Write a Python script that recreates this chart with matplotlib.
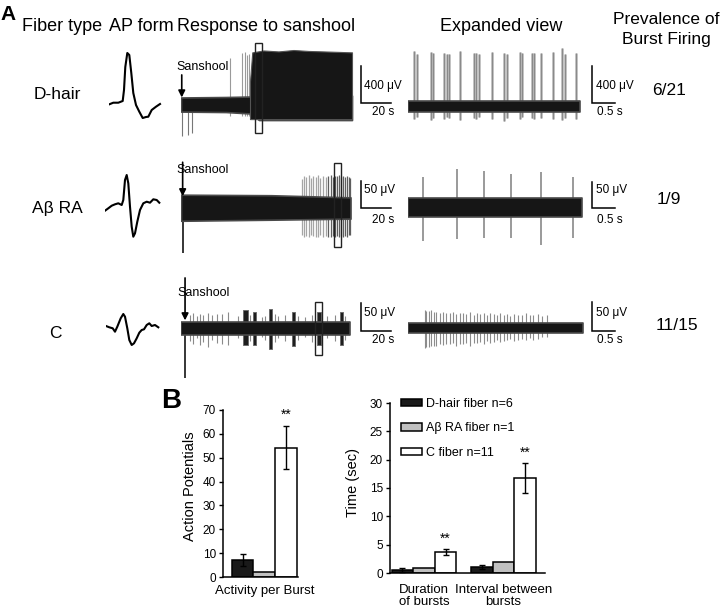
import matplotlib
matplotlib.use("Agg")
import matplotlib.pyplot as plt
from matplotlib.patches import Rectangle, Patch

plt.rcParams['font.family'] = ['Liberation Sans', 'DejaVu Sans']

W, H = 720, 608

# ---------------- panel A data ----------------
fiber_types = ['D-hair', 'Aβ RA', 'C']
prevalence = ['6/21', '1/9', '11/15']
scale_uv = [400, 50, 50]          # vertical scale bars (µV)
scale_slow_s = 20                 # horizontal scale bar, response trace (s)
scale_fast_s = 0.5                # horizontal scale bar, expanded view (s)

# AP waveforms (sample, amplitude, baseline = 0)
dhair_ap_t = [0, 4, 9, 13.4, 14.7, 16, 18, 20, 22, 24, 26.7, 30, 33.4, 36.7, 39, 42.4, 46.7, 50.7]
dhair_ap_v = [-1.3, 0.3, 0.3, 2, 13, 36, 50, 48, 30, 10, -2, -8.7, -15, -14, -13.7, -7, -3.7, -1]
abeta_ap_t = [0, 3.3, 6.7, 10, 13.3, 16.7, 18.3, 20, 21.7, 23.3, 25, 26.7, 28.3, 30, 32.3, 35,
              38.3, 41.7, 45, 48.3, 51.7, 54.3]
abeta_ap_v = [-2.7, -0.3, 2.3, 3.7, 4.7, 3, 8, 28, 33, 24.7, 1.3, -18.7, -28.7, -25.3, -13.7, -2,
              4.7, 6.3, 5.3, 8.7, 8, 5.3]
c_ap_t = [0, 3.3, 6.7, 9, 11.3, 14.7, 17.3, 19, 21.3, 23.3, 25.7, 28, 30.7, 33.3, 35.7, 38, 40.7,
          43.3, 45.7, 49, 52.3]
c_ap_v = [1, -0.3, -1.3, -4.7, 0.3, 8.7, 13, 10.3, -1.3, -13, -18, -16.3, -11.3, -5.7, -3, -2.3, 2,
          3.7, 1, 2, -0.3]

# D-hair response to sanshool (s, µV)
dhair_band_t = [0, 30, 46, 52, 114]
dhair_band_hi = [80, 85, 90, 100, 100]
dhair_band_lo = [-70, -75, -90, -160, -160]
dhair_burst_t = [46, 47.5, 55, 65, 75, 85, 95, 105, 114]
dhair_burst_top = [250, 560, 580, 570, 585, 575, 570, 565, 560]
dhair_spike_t = [32.7, 40.5, 42.7, 43.8, 45.5]
dhair_spike_up = [500, 550, 560, 530, 540]
dhair_artifact_t = [0.5, 4.5, 7.5]
dhair_artifact_lo = [-330, -320, -300]
dhair_window = [49.3, 54.0, -295, 656]

# D-hair expanded view (s, µV)
dhair_exp_band_t = [0, 3.79]
dhair_exp_band_hi = [60, 60]
dhair_exp_band_lo = [-60, -60]
dhair_exp_spike_t = [0.13, 0.205, 0.50, 0.557, 0.79, 0.85, 0.91, 1.14, 1.45, 1.50, 1.56, 1.84,
                     2.11, 2.17, 2.46, 2.52, 2.74, 2.77, 2.94, 3.20, 3.40, 3.45, 3.71]
dhair_exp_spike_up = [590, 560, 585, 570, 575, 560, 565, 590, 570, 575, 565, 585, 575, 560, 580,
                      570, 570, 575, 575, 585, 620, 560, 570]
dhair_exp_spike_lo = [-130, -110, -140, -120, -130, -110, -120, -140, -120, -130, -110, -130,
                      -150, -120, -130, -110, -120, -130, -120, -130, -140, -120, -130]

# Abeta RA response to sanshool (s, µV)
abeta_band_t = [0, 60, 113]
abeta_band_hi = [25, 24, 20]
abeta_band_lo = [-24, -22, -20]
abeta_spike_t = [80.7, 82, 83.4, 85.4, 86.7, 88, 90, 91.4, 92.7, 94.7, 96.7, 98, 100, 101.4, 102.7,
                 104, 105.4, 106.7, 108, 109.4, 110.7, 112, 112.7]
abeta_spike_up = [55, 60, 58, 62, 56, 60, 59, 62, 57, 61, 58, 60, 62, 59, 61, 60, 62, 58, 61, 59,
                  60, 58, 56]
abeta_spike_lo = [-50, -54, -52, -55, -50, -53, -54, -55, -51, -54, -52, -55, -54, -53, -55, -52,
                  -55, -53, -54, -52, -55, -51, -50]
abeta_artifact_t = [1.1]
abeta_artifact_lo = [-84]
abeta_window = [102.2, 106.5, -73, 85]

# Abeta RA expanded view
abeta_exp_band_t = [0, 3.83]
abeta_exp_band_hi = [18, 18]
abeta_exp_band_lo = [-18, -18]
abeta_exp_spike_t = [0.32, 1.09, 1.67, 2.26, 2.94, 3.63]
abeta_exp_spike_up = [60, 76, 71, 65, 69, 60]
abeta_exp_spike_lo = [-65, -62, -59, -59, -73, -59]

# C fiber response to sanshool
c_band_t = [0, 113]
c_band_hi = [12, 12]
c_band_lo = [-12, -12]
c_burst_start = [41.3, 48.0, 58.7, 74.0, 90.7, 106.0]
c_burst_end = [44.7, 50.0, 60.7, 76.0, 93.4, 108.0]
c_burst_up = [32, 29, 34, 29, 28, 29]
c_burst_lo = [-30, -30, -37, -32, -30, -30]
c_spike_t = [6, 8.2, 10.5, 12.7, 14.9, 18.2, 20.9, 23.8, 27.1, 31.5, 38.2, 46, 53.8, 56, 62.7,
             64.9, 69.3, 78.2, 82.7, 87.1, 97.1, 102.7, 109.3]
c_spike_up = [24, 27, 22, 26, 24, 27, 23, 25, 26, 28, 22, 24, 20, 22, 25, 21, 23, 22, 20, 24, 21,
              23, 22]
c_spike_lo = [-22, -28, -18, -30, -25, -33, -20, -26, -28, -30, -18, -22, -16, -20, -25, -18, -22,
              -20, -16, -24, -18, -22, -20]
c_artifact_t = [2.7]
c_artifact_lo = [-88]
c_window = [89.5, 94.2, -47, 47]

# C fiber expanded view
c_exp_band_t = [0, 3.85]
c_exp_band_hi = [9, 9]
c_exp_band_lo = [-9, -9]
c_exp_spike_t = [0.37, 0.40, 0.46, 0.51, 0.565, 0.62, 0.70, 0.77, 0.845, 0.92, 0.99, 1.065, 1.14,
                 1.21, 1.285, 1.37, 1.445, 1.52, 1.59, 1.665, 1.74, 1.81, 1.885, 1.96, 2.03, 2.105,
                 2.18, 2.25, 2.34, 2.42, 2.50, 2.59, 2.68, 2.75, 2.86, 2.96, 3.06]
c_exp_spike_up = [32, 31, 30, 32, 29, 28, 27, 28, 26, 27, 28, 25, 27, 26, 25, 28, 24, 26, 25, 27,
                  24, 26, 25, 23, 26, 24, 25, 22, 25, 23, 24, 26, 23, 24, 25, 22, 24]
c_exp_spike_lo = [-34, -33, -32, -31, -30, -30, -28, -29, -27, -28, -26, -30, -27, -28, -26, -31,
                  -25, -26, -24, -27, -22, -25, -23, -20, -24, -22, -21, -18, -22, -20, -19, -21,
                  -17, -20, -18, -15, -16]

# ---------------- panel B data ----------------
legend_labels = ['D-hair fiber n=6', 'Aβ RA fiber n=1', 'C fiber n=11']
ap_per_burst = [7.1, 2.2, 54.2]
ap_per_burst_sem = [2.5, 0, 9.1]
time_groups = ['Duration\nof bursts', 'Interval between\nbursts']
dhair_time = [0.45, 1.1]
dhair_time_sem = [0.35, 0.35]
abeta_time = [0.8, 2.0]
abeta_time_sem = [0, 0]
c_time = [3.7, 16.8]
c_time_sem = [0.6, 2.7]

bar_colors = ['#1a1a1a', '#c0c0c0', 'white']

fig = plt.figure(figsize=(W / 100, H / 100), dpi=100)


def ftext(x, y, s, **kw):
    # place text using pixel coordinates of the figure
    fig.text(x / W, 1 - y / H, s, **kw)


def px_axes(x0, y0, x1, y1):
    ax = fig.add_axes([x0 / W, 1 - y1 / H, (x1 - x0) / W, (y1 - y0) / H])
    ax.patch.set_visible(False)
    return ax


def trace_ax(x0, yc, px_per_s, uv_per_px, span_s):
    top, bot = yc - 80, yc + 55
    ax = px_axes(x0, top, x0 + span_s * px_per_s, bot)
    ax.set_xlim(0, span_s)
    ax.set_ylim(-(bot - yc) * uv_per_px, (yc - top) * uv_per_px)
    ax.axis('off')
    return ax


def band(ax, t, lo, hi):
    # noise band of the recording, with a soft rim
    ax.fill_between(t, lo, hi, color=BAND, edgecolor='#4a4a4a', lw=1.2, zorder=3)


def scale_bar(ax, t, base, dt, duv):
    ax.plot([t, t, t + dt], [base + duv, base, base], color='k', lw=1.1,
            solid_joinstyle='miter', clip_on=False)


def window_box(ax, win):
    ax.add_patch(Rectangle((win[0], win[2]), win[1] - win[0], win[3] - win[2],
                           fill=False, ec='#222222', lw=1.0, zorder=5))


def sanshool(ax, t, top, tip, tx, ty):
    ax.annotate('', xy=(t, tip), xytext=(t, top),
                arrowprops=dict(arrowstyle='-|>', color='k', lw=1.2, mutation_scale=10,
                                shrinkA=0, shrinkB=0), zorder=6)
    ftext(tx, ty, 'Sanshool', fontsize=9, ha='left', va='baseline')


BAND = '#161616'
SLOW = 1.5      # px per s
FAST = 45.4     # px per s

# ---------------- headers ----------------
ftext(0, 20, 'A', fontsize=15, fontweight='bold')
hdr = dict(fontsize=13, ha='center', va='baseline')
ftext(62, 31, 'Fiber type', **hdr)
ftext(141, 31, 'AP form', **hdr)
ftext(266, 31, 'Response to sanshool', **hdr)
ftext(501, 31, 'Expanded view', **hdr)
ftext(666, 24, 'Prevalence of', fontsize=12.5, ha='center', va='baseline')
ftext(666, 44, 'Burst Firing', fontsize=12.5, ha='center', va='baseline')

# row labels & prevalence
label_pos = [(57, 99), (57, 213), (55, 338)]
prev_pos = [(669, 95), (669, 204), (677, 330)]
for name, (x, y) in zip(fiber_types, label_pos):
    ftext(x, y, name, fontsize=12.5, ha='center', va='baseline')
for p, (x, y) in zip(prevalence, prev_pos):
    ftext(x, y, p, fontsize=12.5, ha='center', va='baseline')

# ---------------- AP forms ----------------
ap_data = [(dhair_ap_t, dhair_ap_v, 109.3, 103), (abeta_ap_t, abeta_ap_v, 105, 208),
           (c_ap_t, c_ap_v, 106, 327)]
for t, v, x0, base in ap_data:
    ax = px_axes(x0, base - 60, x0 + 60, base + 45)
    ax.set_xlim(0, 60)
    ax.set_ylim(-45, 60)
    ax.axis('off')
    ax.plot(t, v, color='k', lw=1.5)

# ---------------- D-hair traces ----------------
ax = trace_ax(181, 105, SLOW, 400 / 37.6, 145)
ax.vlines(dhair_artifact_t, dhair_artifact_lo, 0, color='#777777', lw=0.8)
ax.vlines(dhair_spike_t, -120, dhair_spike_up, color='#9a9a9a', lw=0.8)
band(ax, dhair_band_t, dhair_band_lo, dhair_band_hi)
ax.fill_between(dhair_burst_t, -150, dhair_burst_top, color=BAND, edgecolor='#555555',
                lw=0.8, zorder=4)
window_box(ax, dhair_window)
scale_bar(ax, 120, 18, scale_slow_s, scale_uv[0])
sanshool(ax, 0.5, 320, 80, 176.7, 70)

ax = trace_ax(408, 106.7, FAST, 400 / 37.6, 4.7)
ax.vlines(dhair_exp_spike_t, dhair_exp_spike_lo, dhair_exp_spike_up, color='#b0b0b0', lw=1.8)
ax.vlines(dhair_exp_spike_t, dhair_exp_spike_lo, dhair_exp_spike_up, color='#7a7a7a', lw=0.5)
band(ax, dhair_exp_band_t, dhair_exp_band_lo, dhair_exp_band_hi)
scale_bar(ax, 4.06, 36, scale_fast_s, scale_uv[0])

# ---------------- Abeta RA traces ----------------
ax = trace_ax(181, 208, SLOW, 50 / 26.6, 145)
cols = ['#a5a5a5' if t < 98 else '#5e5e5e' for t in abeta_spike_t]
ax.vlines(abeta_spike_t, abeta_spike_lo, abeta_spike_up, colors=cols, lw=0.9)
ax.vlines(abeta_artifact_t, abeta_artifact_lo, 0, color='k', lw=1.1)
band(ax, abeta_band_t, abeta_band_lo, abeta_band_hi)
window_box(ax, abeta_window)
scale_bar(ax, 120, 0, scale_slow_s, scale_uv[1])
sanshool(ax, 1.1, 86, 22, 176, 172.5)

ax = trace_ax(408, 207.5, FAST, 50 / 25.6, 4.7)
ax.vlines(abeta_exp_spike_t, abeta_exp_spike_lo, abeta_exp_spike_up, color='#9a9a9a', lw=1.4)
band(ax, abeta_exp_band_t, abeta_exp_band_lo, abeta_exp_band_hi)
scale_bar(ax, 4.06, 0, scale_fast_s, scale_uv[1])

# ---------------- C fiber traces ----------------
ax = trace_ax(181, 328.3, SLOW, 50 / 28.3, 145)
ax.vlines(c_spike_t, c_spike_lo, c_spike_up, color='#8a8a8a', lw=0.8)
for t0, t1, up, lo in zip(c_burst_start, c_burst_end, c_burst_up, c_burst_lo):
    ax.fill_between([t0, t1], lo, up, color='#1e1e1e', edgecolor='#666666', lw=0.6)
ax.vlines(c_artifact_t, c_artifact_lo, 0, color='k', lw=1.1)
band(ax, c_band_t, c_band_lo, c_band_hi)
window_box(ax, c_window)
scale_bar(ax, 120, -4.8, scale_slow_s, scale_uv[2])
sanshool(ax, 2.7, 89, 14, 177.7, 295.5)

ax = trace_ax(408, 328.3, FAST, 50 / 28.7, 4.7)
ax.vlines(c_exp_spike_t, c_exp_spike_lo, c_exp_spike_up, color='#8c8c8c', lw=0.8)
band(ax, c_exp_band_t, c_exp_band_lo, c_exp_band_hi)
scale_bar(ax, 4.06, -4.7, scale_fast_s, scale_uv[2])

# scale bar labels
sb = dict(fontsize=8.5, va='baseline')
for uv, y_uv, y_s in [(scale_uv[0], 89.5, 115), (scale_uv[1], 193, 223), (scale_uv[2], 316, 343)]:
    ftext(364, y_uv, f'{uv} μV', ha='left', **sb)
    ftext(596, y_uv, f'{uv} μV', ha='left', **sb)
    ftext(383, y_s, f'{scale_slow_s} s', ha='center', **sb)
    ftext(610, y_s, f'{scale_fast_s} s', ha='center', **sb)

# ---------------- panel B ----------------
ftext(161, 408, 'B', fontsize=20, fontweight='bold')


def style_bar_axes(ax):
    for s in ['top', 'right']:
        ax.spines[s].set_visible(False)
    for s in ['left', 'bottom']:
        ax.spines[s].set_linewidth(1.1)
    ax.tick_params(axis='y', direction='out', length=3, width=1, labelsize=8.5, pad=2)
    ax.tick_params(axis='x', length=0, labelsize=9.5)


axL = px_axes(223, 410, 298, 577)
xs = [0, 1, 2]
axL.bar(xs, ap_per_burst, width=1, color=bar_colors, edgecolor='k', linewidth=1.1)
for x, m, e in zip(xs, ap_per_burst, ap_per_burst_sem):
    if e > 0:
        axL.errorbar(x, m, yerr=e, color='k', capsize=2, elinewidth=1, capthick=1)
axL.annotate('**', xy=(2, ap_per_burst[2] + ap_per_burst_sem[2]), xytext=(0, 3),
             textcoords='offset points', ha='center', va='bottom', fontsize=10)
axL.set_xlim(-0.9, 2.55)
axL.set_ylim(0, 70)
axL.set_yticks(range(0, 71, 10))
axL.set_xticks([1])
axL.set_xticklabels(['Activity per Burst'])
style_bar_axes(axL)
axL.tick_params(axis='x', pad=6)
axL.set_ylabel('Action Potentials', fontsize=10.5)
axL.yaxis.set_label_coords(-0.347, 0.545)

axR = px_axes(390, 403, 545, 573)
centers = [0, 3.68]
series = [(dhair_time, dhair_time_sem), (abeta_time, abeta_time_sem), (c_time, c_time_sem)]
for k, (vals, sems) in enumerate(series):
    xk = [c + k - 1 for c in centers]
    axR.bar(xk, vals, width=1, color=bar_colors[k], edgecolor='k', linewidth=1.1)
    for x, m, e in zip(xk, vals, sems):
        if e > 0:
            axR.errorbar(x, m, yerr=e, color='k', capsize=2, elinewidth=1, capthick=1)
for c, m, e in zip(centers, c_time, c_time_sem):
    axR.annotate('**', xy=(c + 1, m + e), xytext=(0, 2), textcoords='offset points',
                 ha='center', va='bottom', fontsize=10)
axR.set_xlim(-1.57, 5.6)
axR.set_ylim(0, 30)
axR.set_yticks(range(0, 31, 5))
axR.set_xticks(centers)
axR.set_xticklabels(time_groups, linespacing=0.95)
style_bar_axes(axR)
axR.tick_params(axis='x', pad=8)
axR.set_ylabel('Time (sec)', fontsize=10.5)
axR.yaxis.set_label_coords(-0.194, 0.532)
handles = [Patch(facecolor=c, edgecolor='k', linewidth=1.1) for c in bar_colors]
axR.legend(handles, legend_labels, loc='upper left', bbox_to_anchor=(0.069, 1.03),
           frameon=False, fontsize=9, handlelength=1.7, handleheight=0.56, handletextpad=0.3,
           labelspacing=1.0, borderpad=0, borderaxespad=0)

fig.savefig('out.png', dpi=100)
